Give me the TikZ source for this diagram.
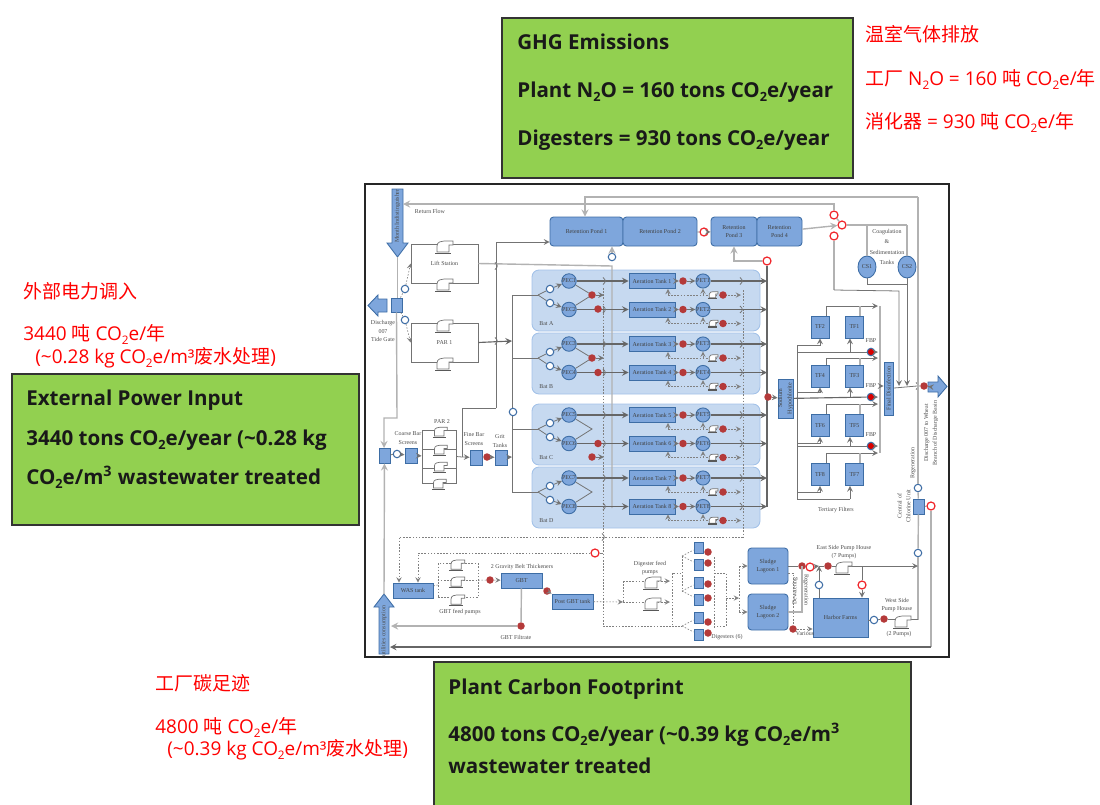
\documentclass[tikz,border=0pt]{standalone}
\usepackage{fontspec}
\usetikzlibrary{shapes.geometric}
\setmainfont{Open Sans}
\newfontfamily\cjk{Noto Sans CJK SC}
\newfontfamily\labelfont{Liberation Serif}
\definecolor{sheetgreen}{HTML}{92D050}
\definecolor{boxfill}{HTML}{7EA6DC}
\definecolor{boxedge}{HTML}{3D6DA5}
\definecolor{batfill}{HTML}{C6D9F0}
\definecolor{batedge}{HTML}{A3C2E8}
\definecolor{reddot}{HTML}{B43A3A}
\definecolor{redring}{HTML}{F0282D}
\newcommand{\lowtwo}{\raisebox{-.4ex}{\fontsize{.62em}{1em}\selectfont 2}}
\newcommand{\cotwo}{CO\lowtwo e}
\newcommand{\hopmark}[2]{\draw[flow] (#1-1,#2-3.5) .. controls (#1+2,#2-1) and (#1+2,#2+1) .. (#1-1,#2+3.5);}
\tikzset{
  pxbox/.style 2 args={minimum width=#1*0.02cm, minimum height=#2*0.02cm},
  greenbox/.style={rectangle, draw=black!80, line width=.7pt, fill=sheetgreen, inner sep=0},
  headline/.style={anchor=base west, inner sep=0, font=\bfseries\fontsize{11.7}{14}\selectfont, text=black!90},
  redline/.style={anchor=base west, inner sep=0, font=\fontsize{10.8}{13}\selectfont, text=red},
  tinylabel/.style={inner sep=0, align=center, text=black!70, font=\labelfont\fontsize{3.4}{4}\selectfont},
  unitbox/.style={rectangle, draw=boxedge, fill=boxfill, line width=.5pt, inner sep=0, align=center, text=black!75, font=\labelfont\fontsize{3.4}{4}\selectfont},
  pondbox/.style={unitbox, rounded corners=2pt},
  unitround/.style={unitbox, circle, minimum size=.24cm},
  openblue/.style={circle, draw=boxedge, fill=white, line width=.6pt, minimum size=.15cm, inner sep=0},
  openred/.style={circle, draw=redring, fill=white, line width=.7pt, minimum size=.16cm, inner sep=0},
  reddot/.style={circle, fill=reddot, minimum size=.15cm, inner sep=0},
  fbpdot/.style={circle, draw=boxedge, fill=red!85!black, line width=.6pt, minimum size=.15cm, inner sep=0},
  batpanel/.style={rectangle, rounded corners=4pt, fill=batfill, draw=batedge, line width=.5pt, minimum width=228*0.02cm, minimum height=61*0.02cm},
  bigarrow/.style={draw=boxedge, fill=boxfill, line width=.5pt},
  flow/.style={draw=black!55, line width=.45pt},
  heavyflow/.style={draw=black!60, line width=.65pt},
  lightflow/.style={draw=black!30, line width=.8pt},
  dashflow/.style={draw=black!50, line width=.35pt, dash pattern=on .9pt off .9pt},
  pumpicon/.pic={
    \filldraw[draw=black!55, fill=white, line width=.4pt] (-7,5) -- (-7,-1) .. controls (-7,-5) and (-3,-6) .. (0,-6) -- (9,-6) -- (9,-2) -- (5,-2) -- (5,5) -- cycle;
    \draw[black!65, line width=.7pt] (-9,6.5) -- (7,6.5);
  }
}
\begin{document}
\begin{tikzpicture}[x=0.02cm, y=-0.02cm, >=stealth]
  \useasboundingbox (0,0) rectangle (1100,805);

  % Summary sheets
  \node[greenbox, pxbox={351}{160}] (ghgsheet) at (677.5,98) {};
  \node[headline] (ghgtitle) at (517,49) {GHG Emissions};
  \node[headline] (ghgplant) at (517,97) {Plant N\lowtwo O = 160 tons \cotwo/year};
  \node[headline] (ghgdigest) at (517,145) {Digesters = 930 tons \cotwo/year};
  \node[greenbox, pxbox={347}{151}] (powersheet) at (185.5,449.5) {};
  \node[headline] (powertitle) at (26,405) {External Power Input};
  \node[headline] (powerline) at (26,445) {3440 tons \cotwo/year (\textasciitilde0.28 kg};
  \node[headline] (powerlinetwo) at (26,484) {\cotwo/m\textsuperscript{3} wastewater treated};
  \node[greenbox, pxbox={477}{160}] (footsheet) at (672.5,742) {};
  \node[headline] (foottitle) at (448,694) {Plant Carbon Footprint};
  \node[headline] (footline) at (448,741) {4800 tons \cotwo/year (\textasciitilde0.39 kg \cotwo/m\textsuperscript{3}};
  \node[headline] (footlinetwo) at (448,773) {wastewater treated};

  % Red translations
  \node[redline] (ghgcn) at (865,41) {\cjk 温室气体排放};
  \node[redline] (plantcn) at (865,85) {{\cjk 工厂} N\lowtwo O = 160 {\cjk 吨} \cotwo/{\cjk 年}};
  \node[redline] (digestcn) at (865,128) {{\cjk 消化器} = 930 {\cjk 吨} \cotwo/{\cjk 年}};
  \node[redline] (powercn) at (23,298) {\cjk 外部电力调入};
  \node[redline] (powervalcn) at (23,340) {3440 {\cjk 吨} \cotwo/{\cjk 年}};
  \node[redline] (powerratecn) at (35,363) {(\textasciitilde0.28 kg \cotwo/m³{\cjk 废水处理})};
  \node[redline] (footcn) at (155,690) {\cjk 工厂碳足迹};
  \node[redline] (footvalcn) at (155,733) {4800 {\cjk 吨} \cotwo/{\cjk 年}};
  \node[redline] (footratecn) at (167,755) {(\textasciitilde0.39 kg \cotwo/m³{\cjk 废水处理})};

  % Process sheet
  \node[rectangle, draw=black!85, line width=.8pt, pxbox={584}{473}] (sheet) at (657,420.5) {};
  \foreach \bat/\baty in {A/270,B/333,C/404,D/467}
    \node[batpanel] (bat\bat) at (646,\baty+30.5) {};

  % Large arrows
  \filldraw[bigarrow] (392,189) -- (403,189) -- (403,243) -- (408,243) -- (397.5,257) -- (387,243) -- (392,243) -- cycle;
  \node[tinylabel, rotate=90] (powerin) at (397.5,216) {Month Indistinguisher};
  \filldraw[bigarrow] (387,299) -- (378,299) -- (378,295) -- (368,305.5) -- (378,316) -- (378,312) -- (387,312) -- cycle;
  \filldraw[bigarrow] (379,654) -- (379,607) -- (374,607) -- (384,594) -- (394,607) -- (389,607) -- (389,654) -- cycle;
  \node[tinylabel, rotate=90] (utilin) at (384,631) {utilities consumption};
  \filldraw[bigarrow] (928,382) -- (938,382) -- (938,376) -- (947,386.5) -- (938,397) -- (938,392) -- (928,392) -- cycle;

  % Retention ponds
  \node[pondbox, pxbox={73}{29}] (pond1) at (586.5,231.5) {Retention Pond 1};
  \node[pondbox, pxbox={74}{29}] (pond2) at (660,231.5) {Retention Pond 2};
  \node[pondbox, pxbox={46}{29}] (pond3) at (734,231.5) {Retention\\[1pt]Pond 3};
  \node[pondbox, pxbox={45}{29}] (pond4) at (779.5,231.5) {Retention\\[1pt]Pond 4};
  \node[openblue] (pondvalve) at (612,257) {};
  \node[openred] (pondred) at (704,232) {};
  \node[openred] (trunkred) at (767,261) {};
  \node[openred] (splittop) at (834,215) {};
  \node[openred] (splitright) at (842,225) {};
  \node[openred] (splitlow) at (834,236) {};
  \node[tinylabel] (returnlab) at (430,211) {Return Flow};

  % Intake side
  \node[unitbox, pxbox={11}{14}] (discbox) at (396.5,305) {};
  \node[openblue] (liftvalve) at (405,289) {};
  \node[openblue] (parvalve) at (405,320) {};
  \node[tinylabel] (disclab) at (383,331) {Discharge\\[1pt]007\\[1pt]Tide Gate};
  \node[rectangle, draw=black!55, line width=.45pt, pxbox={67}{39}, tinylabel] (liftloop) at (444.5,263.5) {Lift Station};
  \node[rectangle, draw=black!55, line width=.45pt, pxbox={67}{39}, tinylabel] (parone) at (444.5,342.5) {PAR 1};
  \coordinate (retleft) at (403,204);
  \coordinate (rettop) at (585,197);
  \coordinate (outtop) at (918,197);
  \coordinate (outeast) at (918,620);
  \coordinate (bendA) at (397,418);
  \coordinate (bendB) at (384,418);
  \coordinate (poolfeed) at (496,242);
  \coordinate (poolbase) at (496,408);
  \coordinate (finefeed) at (462,408);
  \coordinate (liftrun) at (612,266);
  \coordinate (liftend) at (612,508);
  \coordinate (trunktop) at (512,295);
  \coordinate (trunkend) at (512,492);
  \coordinate (parjoin) at (512,341);
  \coordinate (dashA) at (603,288);
  \coordinate (dashB) at (603,626);
  \coordinate (dashC) at (743,290);
  \coordinate (dashD) at (743,537);
  \coordinate (arrowfoot) at (397.5,257);
  \coordinate (headtop) at (384,448);
  \coordinate (uptip) at (384,594);
  \draw[lightflow, ->] (outtop) -- (rettop) -- (rettop |- pond1.north);
  \draw[lightflow, ->] (splittop) |- (retleft);
  \draw[flow, ->] (poolbase) -- (poolfeed) -- (pond1.west |- poolfeed);
  \draw[lightflow] (liftloop.east) -- (liftrun) -- (liftend);
  \draw[lightflow, ->] (pondvalve) -- (pondvalve |- pond1.south);
  \draw[flow] (poolbase) -- (finefeed);
  \draw[flow] (trunktop) -- (trunkend);
  \draw[heavyflow, ->] (parone.east) -- (parjoin);
  \hopmark{496}{266}
  \hopmark{496}{341}
  \draw[dashflow] (discbox) -- (liftvalve);
  \draw[dashflow, ->] (liftvalve) -- (liftloop.west);
  \draw[dashflow] (discbox) -- (parvalve);
  \draw[dashflow, ->] (parvalve) -- (parone.west);
  \draw[lightflow] (arrowfoot) -- (arrowfoot |- discbox.north);
  \draw[lightflow, ->] (discbox.south) -- (bendA) -- (bendB) -- (headtop);
  \draw[dashflow] (dashA) -- (dashB);
  \draw[dashflow] (dashC) -- (dashD);
  \foreach \px/\py in {444/247,444/285,444/326,444/364}
    \pic at (\px,\py) {pumpicon};

  % Aeration bats
  \foreach \bat/\baty/\tanka in {A/270/1,B/333/3,C/404/5,D/467/7}{
    \pgfmathtruncatemacro\tankb{\tanka+1}
    \node[tinylabel, anchor=west] (batlab\bat) at (539,\baty+54) {Bat \bat};
    \coordinate (tap\bat) at (512,\baty+25);
    \coordinate (fork\bat) at (538,\baty+25);
    \draw[flow] (tap\bat) -- (fork\bat);
    \foreach \tank/\rowy/\valvey in {\tanka/11/19,\tankb/39.5/33}{
      \node[openblue] (valve\tank) at (550,\baty+\valvey) {};
      \node[unitround] (pec\tank) at (569,\baty+\rowy) {PEC\tank};
      \node[unitbox, pxbox={46}{15}] (tank\tank) at (652,\baty+\rowy) {Aeration Tank \tank};
      \node[reddot] (redin\tank) at (683,\baty+\rowy) {};
      \node[unitround] (pet\tank) at (703,\baty+\rowy) {PET\tank};
      \coordinate (trunk\tank) at (767,\baty+\rowy);
      \coordinate (wasl\tank) at (668,\baty+\rowy+14);
      \coordinate (wasr\tank) at (741,\baty+\rowy+14);
      \draw[flow] (fork\bat) -- (valve\tank);
      \draw[flow, ->] (valve\tank) -- (pec\tank);
      \draw[heavyflow, ->] (pec\tank) -- (tank\tank);
      \draw[flow, ->] (tank\tank) -- (redin\tank);
      \draw[flow, ->] (redin\tank) -- (pet\tank);
      \draw[heavyflow, ->] (pet\tank) -- (trunk\tank);
      \draw[dashflow, ->] (wasl\tank) -- (wasr\tank);
      \draw[dashflow, ->] (wasl\tank) -- (wasl\tank |- tank\tank.south);
      \draw[dashflow, ->] (pet\tank |- wasl\tank) -- (pet\tank);
      \pic[scale=.55] at (713,\baty+\rowy+14) {pumpicon};
      \node[reddot] (redwas\tank) at (723,\baty+\rowy+14) {};
      \hopmark{604}{\baty+\rowy}
      \hopmark{741}{\baty+\rowy}
    }
    \coordinate (mix\bat) at (592,\baty+25);
    \draw[flow] (pec\tanka) -- (mix\bat) -- (pec\tankb);
  }
  \foreach \bat/\redy/\redx in {A/295/309,B/358/372.5,C/457/443.5}{
    \node[reddot] (redmix\bat) at (592,\redy) {};
    \node[reddot] (redrow\bat) at (598,\redx) {};
    \coordinate (redtip\bat) at (604,\redy);
    \draw[flow, ->] (redmix\bat) -- (redtip\bat);
  }

  % Main collection to outfall
  \coordinate (collectend) at (767,507);
  \coordinate (pond3turn) at (734,261);
  \draw[heavyflow] (trunkred) -- (collectend);
  \draw[lightflow, ->] (trunkred) -- (pond3turn) -- (pond3turn |- pond3.south);
  \draw[flow] (pond2) -- (pondred);
  \draw[flow, ->] (pondred) -- (pond3);
  \draw[lightflow, ->] (pond4) -- (splitright);
  \draw[lightflow] (splittop) -- (splitright);

  % Coagulation and tertiary filters
  \node[unitbox, ellipse, inner sep=0, pxbox={18}{22}] (cs1) at (867,267) {CS1};
  \node[unitbox, ellipse, inner sep=0, pxbox={18}{22}] (cs2) at (907,267) {CS2};
  \node[tinylabel] (coaglab) at (887,247) {Coagulation\\[2pt]\&\\[2pt]Sedimentation\\[2pt]Tanks};
  \coordinate (csturn) at (907,225);
  \coordinate (csjoin) at (867,225);
  \coordinate (cslow) at (867,284);
  \coordinate (cstie) at (907,284);
  \coordinate (bypass) at (834,290);
  \coordinate (bypassend) at (899,291);
  \coordinate (chlorA) at (899,386);
  \coordinate (chlorB) at (907,386);
  \draw[lightflow] (splitright) -- (csturn);
  \draw[lightflow] (csjoin) -- (cs1);
  \draw[lightflow] (csturn) -- (cs2);
  \draw[flow] (cs1) -- (cslow) -- (cstie);
  \draw[flow, ->] (cs2) -- (chlorB);
  \draw[lightflow] (splitlow) -- (bypass);
  \draw[flow, ->] (bypass) -- (bypassend) -- (chlorA);
  \node[unitbox, pxbox={13}{39}] (hypo) at (785.5,398.5) {\rotatebox{90}{\shortstack{Sodium\\Hypochlorite}}};
  \node[unitbox, pxbox={9}{53}] (finalbox) at (888.5,388.5) {\rotatebox{90}{Final Disinfection}};
  \node[reddot] (hypored) at (768,397) {};
  \node[reddot] (outred) at (924,386) {};
  \coordinate (hoptip) at (917,386);
  \coordinate (arrowtail) at (928,386.5);
  \draw[flow, ->] (hypored) -- (hypo);
  \draw[flow] (finalbox) -- (hoptip) -- (outred);
  \draw[flow, ->] (outred) -- (arrowtail);
  \hopmark{917}{386}
  \foreach \tf/\tfx/\tfy in {TF2/820/327,TF1/854.5/327,TF4/820/376,TF3/854.5/376,TF6/820/425.5,TF5/854.5/425.5,TF8/820/474.5,TF7/854.5/474.5}
    \node[unitbox, pxbox={18}{22}] (\tf) at (\tfx,\tfy) {\tf};
  \foreach \fb/\fby in {1/352,2/397,3/446}{
    \node[fbpdot] (fbp\fb) at (871,\fby) {};
    \node[tinylabel] (fbplab\fb) at (871,\fby-11) {FBP};
    \coordinate (fbptip\fb) at (878,\fby);
    \draw[flow, ->] (fbp\fb) -- (fbptip\fb);
  }
  \coordinate (tertA) at (797,345);
  \coordinate (tertB) at (797,499);
  \coordinate (feedleft) at (797,352);
  \coordinate (feedfour) at (797,392);
  \coordinate (feedmid) at (797,443);
  \coordinate (feedlow) at (797,446);
  \coordinate (feedeight) at (797,492);
  \coordinate (tfupA) at (850,352);
  \coordinate (tfupB) at (850,397);
  \coordinate (tfupC) at (850,446);
  \coordinate (tfupD) at (850,499);
  \draw[flow] (tertA) -- (tertB);
  \draw[flow] (feedleft) -- (fbp1);
  \draw[heavyflow] (hypo) -- (fbp2);
  \draw[flow] (feedlow) -- (fbp3);
  \draw[flow, ->] (tertA) -| (TF2.south);
  \draw[flow, ->] (feedfour) -| (TF4.south);
  \draw[flow, ->] (feedmid) -| (TF6.south);
  \draw[flow, ->] (feedeight) -| (TF8.south);
  \draw[flow] (tertB) -- (tfupD);
  \draw[flow, ->] (tfupD) -- (tfupD |- TF7.south);
  \draw[flow, ->] (tfupA) -- (tfupA |- TF1.south);
  \draw[flow, ->] (tfupB) -- (tfupB |- TF3.south);
  \draw[flow, ->] (tfupC) -- (tfupC |- TF5.south);
  \foreach \tfa/\tfb/\topy in {TF2/TF1/306,TF4/TF3/358,TF6/TF5/404,TF8/TF7/453}{
    \coordinate (upa\tfa) at (826,\topy);
    \coordinate (upb\tfa) at (860,\topy);
    \coordinate (upc\tfa) at (878,\topy);
    \draw[flow, ->] (upa\tfa |- \tfa.north) -- (upa\tfa) -- (upc\tfa);
    \draw[lightflow] (upb\tfa |- \tfb.north) -- (upb\tfa);
  }
  \coordinate (railtop) at (880,306);
  \coordinate (raillow) at (880,453);
  \coordinate (railjoin) at (880,386);
  \draw[lightflow] (railtop) -- (raillow);
  \draw[flow, ->] (railjoin) -- (finalbox.west |- railjoin);
  \node[tinylabel] (tertlab) at (836,510) {Tertiary Filters};

  % Right side service line
  \node[unitbox, pxbox={11}{15}] (chill) at (918.5,506.5) {};
  \node[openblue] (chillup) at (918,488) {};
  \node[openblue] (chilldown) at (918,553) {};
  \node[openred] (chillred) at (931,506) {};
  \node[tinylabel, rotate=90] (regenlab) at (913,463) {Regeneration};
  \node[tinylabel, rotate=90] (chilllab) at (904,506) {Central of\\[1pt]Chlorine Unit};
  \node[tinylabel, rotate=90] (outlab) at (931,433) {Discharge 007 to Wheat\\[1pt]Branch of Discharge Basin};
  \coordinate (lowright) at (931,647);
  \coordinate (lowleft) at (390,647);
  \draw[lightflow] (outtop) -- (chillup);
  \draw[lightflow] (chillup) -- (chill);
  \draw[lightflow] (chill) -- (chilldown);
  \draw[lightflow] (chilldown) -- (outeast);
  \draw[flow] (chillred) -- (chill);
  \draw[lightflow] (chillred) -- (lowright);
  \draw[heavyflow, ->] (lowright) -- (lowleft);

  % Headworks
  \node[unitbox, pxbox={11}{15}] (headbox) at (384.5,455.5) {};
  \node[openblue] (headring) at (397,454) {};
  \node[unitbox, pxbox={12}{15}] (coarsebox) at (411,455.5) {};
  \node[tinylabel] (coarselab) at (408,438) {Coarse Bar\\[1pt]Screens};
  \node[rectangle, draw=black!55, line width=.45pt, pxbox={34}{53}] (partwo) at (439,456.5) {};
  \node[tinylabel] (partwolab) at (442,422) {PAR 2};
  \node[unitbox, pxbox={12}{15}] (finebox) at (476,457.5) {};
  \node[tinylabel] (finelab) at (474,439) {Fine Bar\\[1pt]Screens};
  \node[reddot] (finered) at (487,457) {};
  \node[unitbox, pxbox={12}{15}] (gritbox) at (501,457.5) {};
  \node[tinylabel] (gritlab) at (500,441) {Grit\\[1pt]Tanks};
  \node[openblue] (trunkvalve) at (513,412) {};
  \coordinate (finenotch) at (462,457);
  \coordinate (gritjoin) at (512,457);
  \draw[flow] (headbox) -- (headring);
  \draw[flow, ->] (headring) -- (coarsebox);
  \draw[flow, ->] (coarsebox) -- (partwo);
  \draw[flow] (partwo.east) -- (finenotch);
  \draw[flow, ->] (finenotch) -- (finebox);
  \draw[flow] (finefeed) -- (finenotch);
  \draw[flow] (finebox) -- (finered);
  \draw[flow, ->] (finered) -- (gritbox);
  \draw[flow, ->] (gritbox) -- (gritjoin);
  \draw[lightflow, ->] (uptip) -- (headbox);
  \foreach \rowy in {449,468}{
    \coordinate (parl\rowy) at (422,\rowy);
    \coordinate (parr\rowy) at (456,\rowy);
    \draw[flow] (parl\rowy) -- (parr\rowy);
  }
  \foreach \px/\py in {440/432,440/450,440/467,439/484}
    \pic[scale=.8] at (\px,\py) {pumpicon};

  % Solids handling, west
  \node[unitbox, pxbox={40}{15}] (wastank) at (413,590.5) {WAS tank};
  \node[unitbox, pxbox={41}{15}] (gbt) at (521.5,580.5) {GBT};
  \node[unitbox, pxbox={41}{15}] (postgbt) at (572.5,601.5) {Post GBT tank};
  \node[tinylabel] (gbtlab) at (522,567) {2 Gravity Belt Thickeners};
  \node[tinylabel] (feedlab) at (460,612) {GBT feed pumps};
  \node[tinylabel] (filtlab) at (516,637) {GBT Filtrate};
  \node[reddot] (gbtred) at (490,580) {};
  \node[reddot] (postred) at (547,591) {};
  \node[reddot] (filtred) at (521,626) {};
  \node[openred] (wasred) at (595,553) {};
  \node[rectangle, dashflow, pxbox={40}{34}] (gbtloop) at (458,580.5) {};
  \coordinate (wasdashA) at (399,537);
  \coordinate (wasdashB) at (418,553);
  \coordinate (filtend) at (391,626);
  \coordinate (wasmid) at (603,553);
  \draw[dashflow, ->] (dashD) -- (wasdashA) -- (wasdashA |- wastank.north);
  \draw[dashflow, ->] (wasred) -- (wasdashB) -- (wasdashB |- wastank.north);
  \draw[dashflow] (wasmid) -- (wasred);
  \hopmark{603}{537}
  \draw[dashflow] (wastank) -- (gbtloop);
  \draw[dashflow] (gbtloop.west) -- (gbtloop.east);
  \draw[dashflow] (gbtloop) -- (gbtred);
  \draw[dashflow, ->] (gbtred) -- (gbt);
  \draw[dashflow] (gbt.south east) -- (postred);
  \draw[dashflow, ->] (postred) -- (postgbt.north west);
  \draw[lightflow] (gbt) -- (filtred);
  \draw[lightflow, ->] (filtred) -- (filtend);
  \foreach \px/\py in {457/565,457/582,457/600}
    \pic[scale=.85] at (\px,\py) {pumpicon};

  % Digesters
  \node[tinylabel] (digfeedlab) at (650,568) {Digester feed\\[1pt]pumps};
  \node[tinylabel] (diglab) at (727,637) {Digesters (6)};
  \coordinate (feedA) at (623,581);
  \coordinate (feedB) at (623,602);
  \coordinate (feedAtip) at (670,581);
  \coordinate (feedBtip) at (670,602);
  \coordinate (loopA) at (672,573);
  \coordinate (loopB) at (672,626);
  \coordinate (forktop) at (682,556);
  \coordinate (forkmid) at (682,591);
  \coordinate (forklow) at (682,626);
  \coordinate (backtop) at (714,557);
  \coordinate (backlow) at (714,627);
  \coordinate (backA) at (726,573);
  \coordinate (backB) at (726,626);
  \coordinate (backC) at (726,598);
  \coordinate (lagjoin) at (739,598);
  \coordinate (lagtop) at (739,566);
  \coordinate (laglow) at (739,612);
  \draw[dashflow] (dashB) -- (loopB) -- (loopA) -- (loopA -| forktop);
  \draw[dashflow] (loopB) -- (forklow);
  \draw[dashflow] (forktop) -- (forkmid);
  \draw[dashflow, ->] (postgbt) -- (feedB);
  \draw[dashflow] (feedA) -- (feedB);
  \draw[dashflow, ->] (feedA) -- (feedAtip);
  \draw[dashflow, ->] (feedB) -- (feedBtip);
  \foreach \px/\py in {652/583,652/604}
    \pic at (\px,\py) {pumpicon};
  \foreach \dg/\dgy/\dgfork/\dgred in {1/547.5/forktop/552,2/564.5/forktop/563,3/582.5/forkmid/584,4/599.5/forkmid/598,5/617.5/forklow/622,6/634.5/forklow/633}{
    \node[unitbox, pxbox={9}{11}] (dig\dg) at (698.5,\dgy) {};
    \node[reddot] (digred\dg) at (708,\dgred) {};
    \draw[dashflow] (\dgfork) -- (dig\dg);
  }
  \draw[dashflow] (backtop) -- (backlow);
  \draw[dashflow] (backA -| backtop) -- (backA) -- (backB) -- (backB -| backlow);
  \draw[dashflow, ->] (backC) -- (lagjoin);
  \draw[dashflow] (lagtop) -- (laglow);

  % Lagoons and farms
  \node[pondbox, pxbox={40}{36}] (lagoon1) at (768,566) {Sludge\\[1pt]Lagoon 1};
  \node[pondbox, pxbox={40}{36}] (lagoon2) at (768,612) {Sludge\\[1pt]Lagoon 2};
  \node[unitbox, pxbox={55}{39}] (farms) at (840.5,617.5) {Harbor Farms};
  \node[reddot] (lagred) at (802,566) {};
  \node[openred] (lagring) at (810,567) {};
  \node[reddot] (eastred) at (828,566) {};
  \node[openblue] (farmring) at (819,585) {};
  \node[openred] (farmred) at (862,585) {};
  \node[openblue] (westring) at (874,620) {};
  \node[reddot] (westred) at (884,619) {};
  \node[reddot] (variousred) at (793,629) {};
  \node[tinylabel] (eastlab) at (844,552) {East Side Pump House\\[1pt](7 Pumps)};
  \node[tinylabel] (westlab) at (897,605) {West Side\\[1pt]Pump House};
  \node[tinylabel] (westcount) at (899,634) {(2 Pumps)};
  \node[tinylabel] (variouslab) at (805,634) {Various};
  \node[tinylabel, rotate=-90] (regenleft) at (806,590) {Regeneration};
  \node[tinylabel, rotate=90] (dewaterlab) at (795,591) {Dewatering};
  \coordinate (junction) at (819,566);
  \coordinate (eastend) at (918,566);
  \coordinate (farmturn) at (862,566);
  \coordinate (westend) at (918,619);
  \coordinate (lagdown) at (802,612);
  \coordinate (lagA) at (793,573);
  \draw[dashflow, ->] (lagtop) -- (lagoon1.west |- lagtop);
  \draw[dashflow, ->] (laglow) -- (lagoon2.west |- laglow);
  \draw[flow] (lagoon1.east |- lagred) -- (lagred);
  \draw[flow] (lagred) -- (lagring);
  \draw[flow, ->] (lagring) -- (junction);
  \draw[flow] (junction) -- (eastred);
  \draw[flow, ->] (eastred) -- (eastend);
  \draw[flow, ->] (farmring) -- (junction);
  \draw[flow] (farmring |- farms.north) -- (farmring);
  \draw[flow] (farmturn) -- (farmred);
  \draw[flow, ->] (farmred) -- (farmred |- farms.north);
  \draw[flow] (farms.east |- westring) -- (westring);
  \draw[flow] (westring) -- (westred);
  \draw[flow] (westred) -- (westend);
  \draw[lightflow] (lagoon2.east |- lagdown) -- (lagdown) -- (lagdown |- lagred);
  \draw[dashflow] (lagA -| lagoon1.east) -- (lagA) -- (variousred);
  \draw[dashflow, ->] (variousred) -- (farms.west |- variousred);
  \pic at (843,568) {pumpicon};
  \pic at (902,622) {pumpicon};
\end{tikzpicture}
\end{document}
